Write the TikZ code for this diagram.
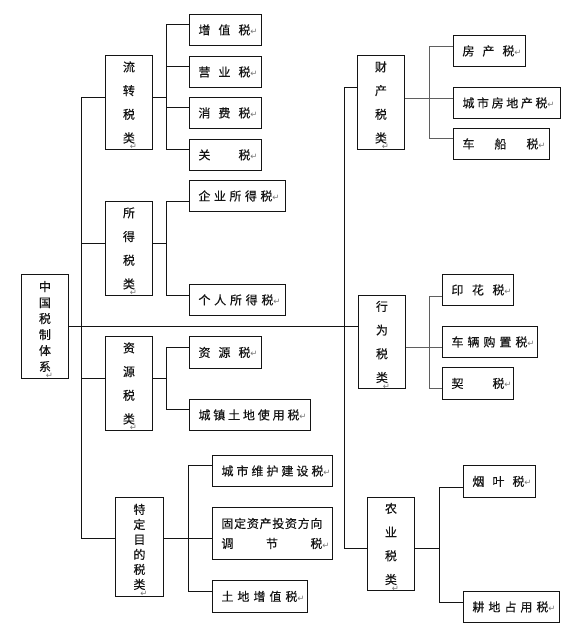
\documentclass[tikz,border=0pt]{standalone}
\usepackage{fontspec}
\newfontfamily\cjk[FakeBold=0.35]{Noto Sans CJK SC}
\newfontfamily\symfont{DejaVu Sans}
\definecolor{ink}{RGB}{20,20,20}
\definecolor{soft}{RGB}{120,120,120}
\definecolor{wire}{RGB}{95,95,95}
\newcommand\ret{{\symfont\fontsize{8.5}{9}\selectfont\color{soft}↵}}
\newcommand\retbelow{\rlap{\hspace{-5pt}\raisebox{-7pt}[0pt][0pt]{\ret}}}
\newcommand\leaftxt[3]{\makebox[#1pt][l]{\hspace*{9pt}\makebox[#2pt]{#3}\ret}}
\tikzset{
  every picture/.style={color=ink, line width=0.9pt},
  box/.style={draw=ink, fill=white, anchor=north west, inner sep=0pt},
  cat/.style={box, minimum width=47pt, minimum height=94pt, align=center, font=\cjk\fontsize{12}{23.7}\selectfont},
  leaf/.style={box, minimum height=31pt, align=left, font=\cjk\fontsize{12}{20}\selectfont},
  link/.style={draw=ink, line width=0.9pt},
  sub/.style={link, draw=wire},
}

\begin{document}
\begin{tikzpicture}[x=1pt, y=-1pt]
  \useasboundingbox (0,0) rectangle (574,632);
  % root and the seven groups
  \node[cat, minimum height=104pt, font=\cjk\fontsize{12}{16}\selectfont] (root) at (21,274) {中\\国\\税\\制\\体\\系\retbelow};
  \node[cat] (liuzhuan) at (105,55) {流\\转\\税\\类\retbelow};
  \node[cat] (suode) at (105,201) {所\\得\\税\\类\retbelow};
  \node[cat] (ziyuanlei) at (105,336) {资\\源\\税\\类\retbelow};
  \node[cat, minimum width=48pt, minimum height=99pt, font=\cjk\fontsize{12}{15}\selectfont] (teding) at (115,497) {特\\定\\目\\的\\税\\类\retbelow};
  \node[cat] (caichan) at (357,55) {财\\产\\税\\类\retbelow};
  \node[cat, minimum height=93pt] (xingwei) at (358,295) {行\\为\\税\\类\retbelow};
  \node[cat, minimum height=93pt] (nongye) at (367,497) {农\\业\\税\\类\retbelow};
  % single taxes, left side
  \node[leaf] (zengzhi) at (189,14) {\leaftxt{72}{52}{增\hfill 值\hfill 税}};
  \node[leaf] (yingye) at (189,56) {\leaftxt{72}{52}{营\hfill 业\hfill 税}};
  \node[leaf] (xiaofei) at (189,97) {\leaftxt{72}{52}{消\hfill 费\hfill 税}};
  \node[leaf] (guan) at (189,139) {\leaftxt{72}{52}{关\hfill 税}};
  \node[leaf] (qiye) at (189,180) {\leaftxt{96}{74}{企\hfill 业\hfill 所\hfill 得\hfill 税}};
  \node[leaf] (geren) at (189,284) {\leaftxt{96}{75}{个\hfill 人\hfill 所\hfill 得\hfill 税}};
  \node[leaf, minimum height=32pt] (ziyuan) at (189,336) {\leaftxt{72}{52}{资\hfill 源\hfill 税}};
  \node[leaf] (chengzhen) at (189,399) {\leaftxt{121}{101}{城\hfill 镇\hfill 土\hfill 地\hfill 使\hfill 用\hfill 税}};
  \node[leaf] (weihu) at (212,455) {\leaftxt{120}{102}{城\hfill 市\hfill 维\hfill 护\hfill 建\hfill 设\hfill 税}};
  \node[leaf, minimum height=52pt] (guding) at (212,507) {\makebox[120pt][l]{\hspace*{9pt}\makebox[101pt]{固\hfill 定\hfill 资\hfill 产\hfill 投\hfill 资\hfill 方\hfill 向}}\\\leaftxt{120}{101}{调\hfill 节\hfill 税}};
  \node[leaf, minimum height=32pt] (tudi) at (212,580) {\leaftxt{95}{76}{土\hfill 地\hfill 增\hfill 值\hfill 税}};
  % single taxes, right side
  \node[leaf] (fangchan) at (453,35) {\leaftxt{72}{52}{房\hfill 产\hfill 税}};
  \node[leaf] (fangdi) at (453,87) {\leaftxt{107}{85}{城\hfill 市\hfill 房\hfill 地\hfill 产\hfill 税}};
  \node[leaf] (chechuan) at (453,128) {\leaftxt{96}{76}{车\hfill 船\hfill 税}};
  \node[leaf] (yinhua) at (442,274) {\leaftxt{71}{53}{印\hfill 花\hfill 税}};
  \node[leaf] (cheliang) at (442,326) {\leaftxt{95}{76}{车\hfill 辆\hfill 购\hfill 置\hfill 税}};
  \node[leaf, minimum height=32pt] (qi) at (442,367) {\leaftxt{71}{53}{契\hfill 税}};
  \node[leaf, minimum height=32pt] (yanye) at (463,465) {\leaftxt{72}{52}{烟\hfill 叶\hfill 税}};
  \node[leaf] (gengdi) at (463,591) {\leaftxt{96}{76}{耕\hfill 地\hfill 占\hfill 用\hfill 税}};

  % trunks and branch points
  \coordinate (ltrunk) at ([xshift=-34pt,yshift=8.5pt]teding.west);
  \coordinate (rtrunk) at ([xshift=-23pt,yshift=-4.5pt]nongye.west);
  \coordinate (liuzhuanb) at ([xshift=14pt,yshift=5pt]liuzhuan.east);
  \coordinate (suodeb) at ([xshift=14pt,yshift=5pt]suode.east);
  \coordinate (ziyuanb) at ([xshift=14pt,yshift=5pt]ziyuanlei.east);
  \coordinate (tedingb) at ([xshift=25pt,yshift=8.5pt]teding.east);
  \coordinate (caichanb) at ([xshift=25pt,yshift=4pt]caichan.east);
  \coordinate (xingweib) at ([xshift=24pt,yshift=-5.5pt]xingwei.east);
  \coordinate (nongyeb) at ([xshift=25pt,yshift=-4.5pt]nongye.east);

  \draw[link] ([yshift=5pt]liuzhuan.west) -| (ltrunk) -- ([yshift=8.5pt]teding.west);
  \foreach \n in {suode, ziyuanlei}
    \draw[link] ([yshift=5pt]\n.west) -| (ltrunk);
  \draw[link] ([yshift=15pt]caichan.west) -| (rtrunk) -- ([yshift=-4.5pt]nongye.west);
  \draw[link] (root.east) -- ([yshift=15.5pt]xingwei.west);

  % groups to their taxes
  \draw[link] ([yshift=5pt]liuzhuan.east) -- (liuzhuanb);
  \foreach \n/\s in {zengzhi/5.5, yingye/5.5, xiaofei/5.5, guan/5.5}
    \draw[link] ([yshift=\s pt]\n.west) -| (liuzhuanb);
  \draw[link] ([yshift=5pt]suode.east) -- (suodeb);
  \foreach \n/\s in {qiye/-5.5, geren/4.5}
    \draw[link] ([yshift=\s pt]\n.west) -| (suodeb);
  \draw[link] ([yshift=5pt]ziyuanlei.east) -- (ziyuanb);
  \foreach \n/\s in {ziyuan/5, chengzhen/5.5}
    \draw[link] ([yshift=\s pt]\n.west) -| (ziyuanb);
  \draw[link] ([yshift=8.5pt]teding.east) -- (tedingb);
  \foreach \n/\s in {weihu/5.5, guding/-5, tudi/5}
    \draw[link] ([yshift=\s pt]\n.west) -| (tedingb);
  \draw[sub] ([yshift=4pt]caichan.east) -- (caichanb);
  \foreach \n/\s in {fangchan/4.5, fangdi/4.5, chechuan/5.5}
    \draw[sub] ([yshift=\s pt]\n.west) -| (caichanb);
  \draw[sub] ([yshift=-5.5pt]xingwei.east) -- (xingweib);
  \foreach \n/\s in {yinhua/-6.5, cheliang/-5.5, qi/-5}
    \draw[sub] ([yshift=\s pt]\n.west) -| (xingweib);
  \draw[link] ([yshift=-4.5pt]nongye.east) -- (nongyeb);
  \foreach \n/\s in {yanye/-6, gengdi/4.5}
    \draw[link] ([yshift=\s pt]\n.west) -| (nongyeb);
\end{tikzpicture}
\end{document}
